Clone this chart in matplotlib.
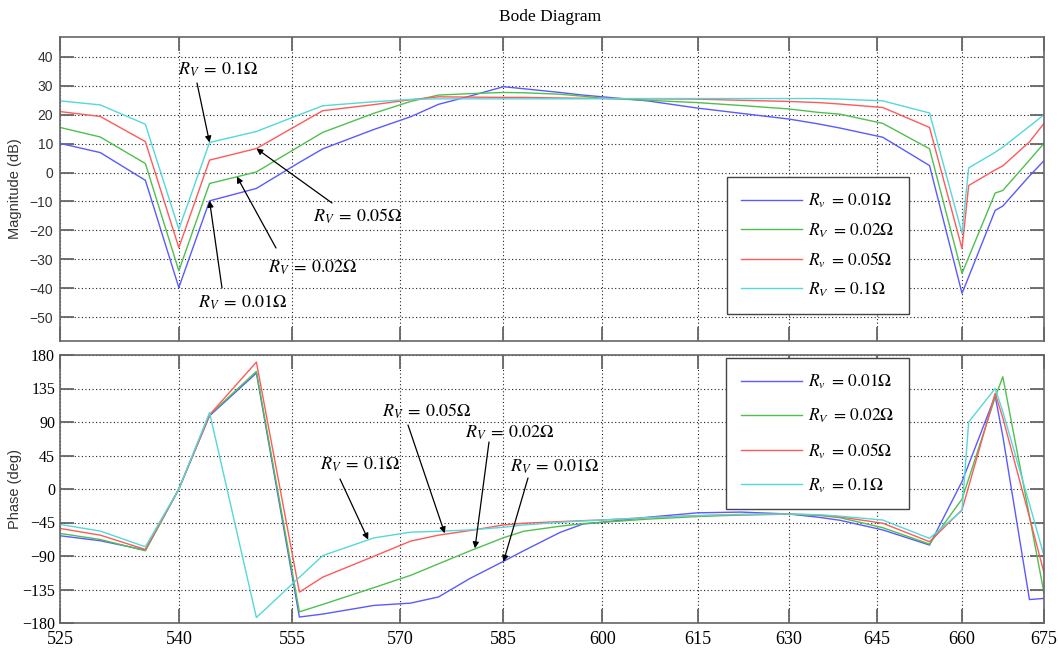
import numpy as np
import matplotlib
matplotlib.use("Agg")
import matplotlib.pyplot as plt

plt.rcParams['mathtext.fontset'] = 'stix'

# ---------------- data ----------------
freq = [525, 530, 535.7, 540, 544, 550.2, 556, 559.2, 566.3, 571.5, 575.5, 580, 585, 588,
        593.5, 597, 600, 607, 615, 622, 630, 635, 638.6, 646, 654.2, 660, 661.2, 666,
        667.4, 672.3, 675]

mag_r001 = [10.1, 6.9, -2.7, -39.8, -9.8, -5.5, 3.5, 8.2, 14.9, 19.3, 23.6, 26.4, 29.7, 29.0,
            27.7, 26.8, 26.2, 24.8, 22.3, 20.5, 18.5, 16.8, 15.4, 12.2, 2.4, -41.8, -36.1,
            -13.1, -11.6, -1.2, 4.1]
mag_r002 = [15.6, 12.3, 3.1, -34.0, -3.8, 0.2, 9.1, 13.9, 20.5, 24.6, 26.8, 27.3, 27.7, 27.6,
            27.1, 26.4, 25.7, 25.0, 24.2, 23.2, 22.0, 20.8, 20.2, 17.0, 8.2, -34.9, -29.3,
            -7.1, -6.2, 4.3, 10.1]
mag_r005 = [21.1, 19.4, 10.7, -26.0, 4.3, 8.3, 16.8, 21.4, 23.5, 25.2, 26.2, 26.1, 26.0, 26.0,
            25.8, 25.7, 25.6, 25.5, 25.4, 25.0, 24.6, 24.2, 23.7, 22.5, 15.6, -26.3, -4.5,
            0.9, 2.3, 10.6, 17.0]
mag_r01 = [24.8, 23.4, 16.7, -19.6, 10.4, 14.2, 20.0, 23.1, 24.5, 25.3, 25.5, 25.5, 25.5, 25.5,
           25.5, 25.5, 25.6, 25.6, 25.6, 25.6, 25.6, 25.6, 25.4, 24.8, 20.6, -21.0, 1.6,
           7.0, 8.8, 16.0, 20.0]

ph_r001 = [-62.8, -69.5, -82.1, 0, 98.3, 155.7, -172, -168, -156.4, -153.3, -145, -120.5, -97.2,
           -83, -58.3, -47, -44.7, -38, -32, -31, -33.6, -38, -42, -55, -75.3, 10, 33, 125,
           71, -148.5, -147]
ph_r002 = [-59.7, -67.8, -83, 0, 99.6, 158, -165, -155, -132.5, -116, -100.5, -83.4, -65.5,
           -56.8, -50, -46.5, -44.7, -40.5, -37, -35, -33.8, -35.5, -38.5, -52, -74, -13.5,
           13.6, 123, 150.8, -36.4, -139.5]
ph_r005 = [-53, -62, -81.2, 0, 99.6, 170.5, -138.5, -118.4, -90.4, -70, -62, -55.9, -48.3,
           -46, -43.8, -42.5, -41.6, -38.5, -35.8, -34.5, -33.6, -35, -37.5, -46, -70.8, -28,
           3.3, 128.6, 95.6, -37.8, -112.5]
ph_r01 = [-47.6, -56.5, -77.6, 0, 102.7, -172.7, -118.6, -89.4, -65.7, -58, -56.8, -55, -51.4,
          -48.3, -44.7, -42.9, -41.6, -38.5, -35.8, -34, -33.6, -34.5, -36.5, -41.7, -66.3,
          -29, 90, 135, 104, -20, -90]

xticks = [525, 540, 555, 570, 585, 600, 615, 630, 645, 660, 675]
mag_ticks = [-50, -40, -30, -20, -10, 0, 10, 20, 30, 40]
ph_ticks = [-180, -135, -90, -45, 0, 45, 90, 135, 180]

labels_top = [r'$R_v\;=\,0.01\Omega$', r'$R_V\;=\,0.02\Omega$', r'$R_v\;=\,0.05\Omega$', r'$R_V\;=\,0.1\Omega$']
labels_bot = [r'$R_v\;=\,0.01\Omega$', r'$R_V\;=\,0.02\Omega$', r'$R_v\;=\,0.05\Omega$', r'$R_v\;=\,0.1\Omega$']
colors = ['#5a5aff', '#4fc04f', '#ff5a5a', '#55d8d8']

# ---------------- figure ----------------
W, H = 1058, 655
fig = plt.figure(figsize=(W / 100, H / 100), dpi=100)

def px_axes(l, t, r, b):
    return fig.add_axes([l / W, 1 - b / H, (r - l) / W, (b - t) / H])

ax1 = px_axes(60, 37, 1044, 341)
ax2 = px_axes(60, 355, 1044, 623)

fwd = lambda x: np.log(np.clip(np.asarray(x, float) - 232.0, 1e-6, None))
inv = lambda y: np.exp(y) + 232.0

serif = 'Liberation Serif'
sans = 'Liberation Sans'

for ax in (ax1, ax2):
    ax.set_xscale('function', functions=(fwd, inv))
    ax.set_xlim(525, 675)
    ax.set_xticks(xticks)
    ax.grid(True, linestyle=(0, (1, 2.2)), color='#222222', linewidth=0.8)
    ax.tick_params(direction='in', length=10, width=1.3, color='#666666',
                   top=True, right=True)
    for s in ax.spines.values():
        s.set_color('#666666')
        s.set_linewidth(1.2)
    ax.minorticks_off()

mags = [mag_r001, mag_r002, mag_r005, mag_r01]
phs = [ph_r001, ph_r002, ph_r005, ph_r01]
for m, p, c, l1, l2 in zip(mags, phs, colors, labels_top, labels_bot):
    ax1.plot(freq, m, color=c, lw=1.0, label=l1)
    ax2.plot(freq, p, color=c, lw=1.0, label=l2)

ax1.set_ylim(-58.3, 46.9)
ax1.set_yticks(mag_ticks)
ax1.set_xticklabels([])
for t in ax1.get_yticklabels():
    t.set_fontfamily(sans)
    t.set_fontsize(10)
    t.set_color('#333333')

ax2.set_ylim(-180, 180)
ax2.set_yticks(ph_ticks)
for t in ax2.get_yticklabels():
    t.set_fontfamily(serif)
    t.set_fontsize(11.5)
for t in ax2.get_xticklabels():
    t.set_fontfamily(serif)
    t.set_fontsize(13)
ax2.tick_params(axis='x', pad=6)
ax1.tick_params(axis='y', pad=5)

ax1.set_ylabel('Magnitude (dB)', family=sans, fontsize=10.5, color='#333333')
ax1.yaxis.set_label_coords(-38 / 984, 0.5)
ax2.set_ylabel('Phase (deg)', family=sans, fontsize=10.5, color='#333333')
ax2.yaxis.set_label_coords(-38 / 984, 0.5)

fig.text(550 / W, 1 - 17 / H, 'Bode Diagram', ha='center', va='center',
         family=serif, fontsize=12.5)

leg_kw = dict(fontsize=12.5, handlelength=3.5, handletextpad=0.35, borderpad=0.85,
              fancybox=False, edgecolor='#444444', framealpha=1, borderaxespad=0)
lg1 = ax1.legend(loc='upper left', bbox_to_anchor=((726.7 - 60) / 984, 1 - (177.3 - 37) / 304),
                 labelspacing=0.62, **leg_kw)
lg2 = ax2.legend(loc='upper left', bbox_to_anchor=((726 - 60) / 984, 1 - (358.3 - 355) / 268),
                 labelspacing=0.9, **leg_kw)
for lg in (lg1, lg2):
    lg.get_frame().set_linewidth(1.0)

# ---------------- annotations ----------------
arrow = dict(arrowstyle='-|>', color='black', lw=0.9, mutation_scale=9, shrinkA=0, shrinkB=0)

def fp(x, y):
    return (x, H - y)

def annot(ax, text, tip, start, tpos):
    ax.annotate('', xy=tip, xycoords='data', xytext=fp(*start), textcoords='figure pixels',
                arrowprops=arrow)
    fig.text(tpos[0] / W, 1 - tpos[1] / H, text, ha='left', va='center', fontsize=13)

annot(ax1, r'$R_V\;=\,0.1\Omega$', (544, 10.4), (197, 83), (178, 70))
annot(ax1, r'$R_V\;=\,0.05\Omega$', (550.2, 8.3), (332, 203), (313, 216))
annot(ax1, r'$R_V\;=\,0.02\Omega$', (547.6, -1.4), (276, 248), (268, 268))
annot(ax1, r'$R_V\;=\,0.01\Omega$', (544, -9.8), (222, 288), (198, 303))

annot(ax2, r'$R_V\;=\,0.1\Omega$', (565.5, -68), (340, 479), (320, 465))
annot(ax2, r'$R_V\;=\,0.05\Omega$', (576.4, -59.5), (408, 425), (382, 411))
annot(ax2, r'$R_V\;=\,0.02\Omega$', (580.8, -79.7), (489, 442), (465, 433))
annot(ax2, r'$R_V\;=\,0.01\Omega$', (585, -97.7), (528, 478), (510, 467))

fig.savefig('out.png', dpi=100)
